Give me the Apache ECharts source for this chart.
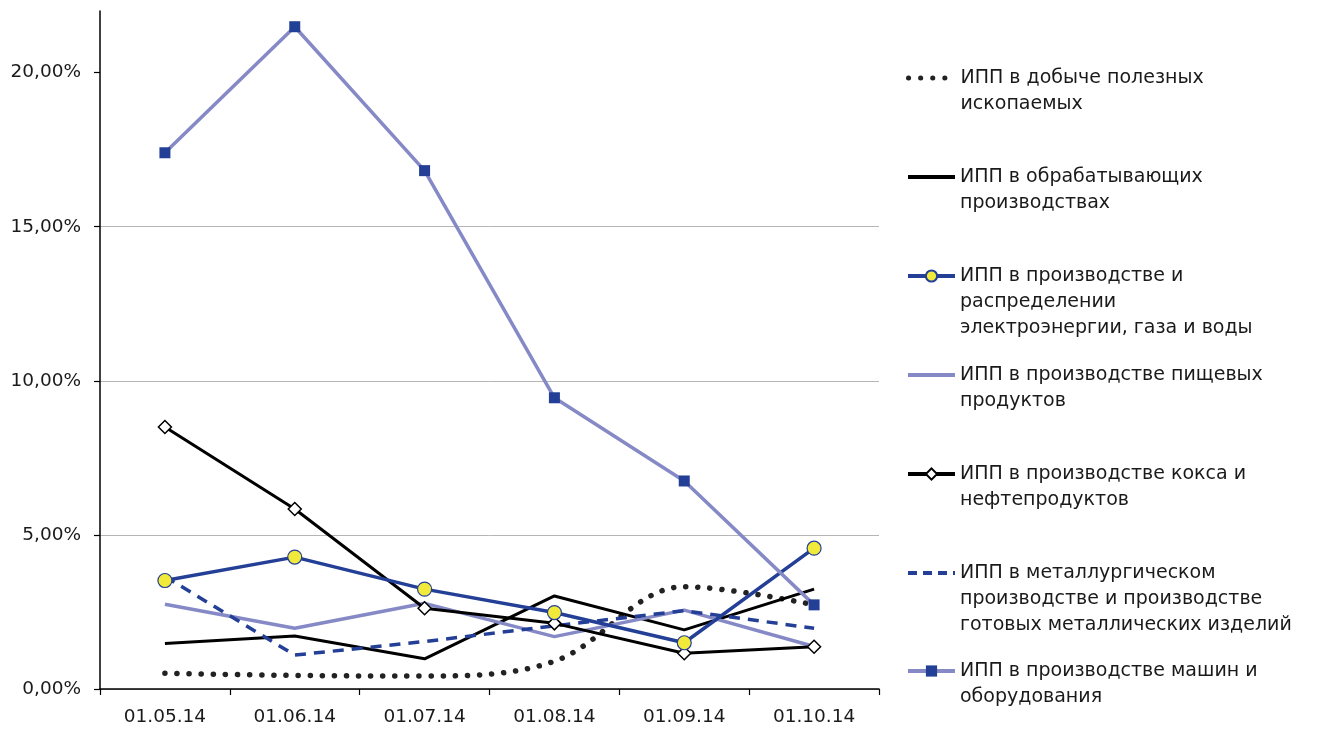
<!DOCTYPE html>
<html lang="ru">
<head>
  <meta charset="UTF-8">
  <title>ИПП по видам деятельности</title>
  <script src="https://cdn.jsdelivr.net/npm/echarts@6/dist/echarts.min.js"></script>
  <style>
    html, body { margin: 0; padding: 0; background: #fff; }
    #chart { width: 1319px; height: 729px; }
  </style>
</head>
<body>
  <div id="chart"></div>
  <script>
    // даты (ось X)
    const dates = ['01.05.14', '01.06.14', '01.07.14', '01.08.14', '01.09.14', '01.10.14'];

    // значения, %
    const mining     = [0.51, 0.44, 0.42, 0.90, 3.32, 2.73];
    const manufact   = [1.48, 1.72, 0.98, 3.02, 1.92, 3.24];
    const electro    = [3.52, 4.28, 3.24, 2.48, 1.50, 4.57];
    const food       = [2.75, 1.97, 2.78, 1.70, 2.56, 1.38];
    const coke       = [8.50, 5.84, 2.62, 2.13, 1.16, 1.37];
    const metal      = [3.65, 1.10, 1.54, 2.05, 2.54, 1.97];
    const machines   = [17.40, 21.49, 16.82, 9.45, 6.75, 2.73];

    const yTicks = [0, 5, 10, 15, 20];

    const names = [
      'ИПП в добыче полезных\nископаемых',
      'ИПП в обрабатывающих\nпроизводствах',
      'ИПП в производстве и\nраспределении\nэлектроэнергии, газа и воды',
      'ИПП в производстве пищевых\nпродуктов',
      'ИПП в производстве кокса и\nнефтепродуктов',
      'ИПП в металлургическом\nпроизводстве и производстве\nготовых металлических изделий',
      'ИПП в производстве машин и\nоборудования'
    ];
    // серии без маркеров
    const noMarker = [true, true, false, true, false, true, false];

    const darkBlue = '#233f96';
    const lilac = '#8589c6';
    const font = 'DejaVu Sans';
    const lh = 26;

    // стиль линий по сериям
    const lineStyles = [
      { color: '#222', width: 5.5, type: [0.1, 12], cap: 'round' },
      { color: '#000', width: 3 },
      { color: darkBlue, width: 3.5 },
      { color: lilac, width: 3.5 },
      { color: '#000', width: 3 },
      { color: darkBlue, width: 3.5, type: [11, 8] },
      { color: lilac, width: 3.5 }
    ];
    const legendLines = [
      { color: '#222', width: 5, type: [0.1, 12], cap: 'round' },
      { color: '#000', width: 4 },
      { color: darkBlue, width: 4 },
      { color: lilac, width: 4 },
      { color: '#000', width: 4 },
      { color: darkBlue, width: 4, type: [9, 6] },
      { color: lilac, width: 4 }
    ];

    // отдельная легенда на каждую серию, значок по первой строке
    const legendCenters = [78, 177, 276, 375, 474, 573, 671];
    const legends = names.map((n, i) => {
      const lines = n.split('\n').length;
      const item = { name: n, lineStyle: legendLines[i] };
      if (noMarker[i]) item.itemStyle = { opacity: 0 };
      return {
        data: [item],
        orient: 'vertical',
        left: 906,
        top: legendCenters[i] - (2 * lines - 1) * lh / 2,
        padding: 0,
        itemWidth: 47,
        itemHeight: 14,
        itemGap: 0,
        selectedMode: false,
        // пустые строки сверху, чтобы значок стоял у первой строки
        formatter: s => '\n'.repeat(lines - 1) + s,
        textStyle: { fontFamily: font, fontSize: 19, color: '#1a1a1a', lineHeight: lh }
      };
    });

    const chart = echarts.init(document.getElementById('chart'));
    chart.setOption({
      animation: false,
      backgroundColor: '#fff',
      legend: legends,
      grid: { left: 100, right: 440, top: 11, bottom: 40 },
      xAxis: {
        type: 'category',
        data: dates,
        boundaryGap: true,
        axisLine: { lineStyle: { color: '#000', width: 1.5 } },
        axisTick: { show: true, length: 6, lineStyle: { color: '#000', width: 1.2 } },
        axisLabel: { fontFamily: font, fontSize: 18.5, color: '#1a1a1a', margin: 19 }
      },
      yAxis: {
        type: 'value',
        min: 0,
        max: 22,
        interval: 5,
        axisLine: { show: true, lineStyle: { color: '#000', width: 1.5 } },
        axisTick: { show: true, length: 6, customValues: yTicks, lineStyle: { color: '#000', width: 1.2 } },
        axisLabel: {
          fontFamily: font, fontSize: 18.5, color: '#1a1a1a', margin: 19,
          customValues: yTicks,
          formatter: v => v.toFixed(2).replace('.', ',') + '%'
        },
        splitLine: { show: true, showMaxLine: false, lineStyle: { color: '#b5b5b5', width: 1 } }
      },
      series: [
        {
          name: names[0], type: 'line', data: mining, smooth: 0.35,
          symbol: 'none', lineStyle: lineStyles[0], itemStyle: { color: '#222' }
        },
        {
          name: names[1], type: 'line', data: manufact,
          symbol: 'none', lineStyle: lineStyles[1], itemStyle: { color: '#000' }
        },
        {
          name: names[3], type: 'line', data: food,
          symbol: 'none', lineStyle: lineStyles[3], itemStyle: { color: lilac }
        },
        {
          name: names[5], type: 'line', data: metal,
          symbol: 'none', lineStyle: lineStyles[5], itemStyle: { color: darkBlue }
        },
        {
          name: names[4], type: 'line', data: coke,
          symbol: 'diamond', symbolSize: [13, 13],
          lineStyle: lineStyles[4],
          itemStyle: { color: '#fff', borderColor: '#000', borderWidth: 1.5 }
        },
        {
          name: names[2], type: 'line', data: electro,
          symbol: 'circle', symbolSize: 14,
          lineStyle: lineStyles[2],
          itemStyle: { color: '#f2ea3a', borderColor: darkBlue, borderWidth: 1.2 }
        },
        {
          name: names[6], type: 'line', data: machines,
          symbol: 'rect', symbolSize: 11,
          lineStyle: lineStyles[6],
          itemStyle: { color: darkBlue, borderWidth: 0 }
        }
      ]
    });
  </script>
</body>
</html>
